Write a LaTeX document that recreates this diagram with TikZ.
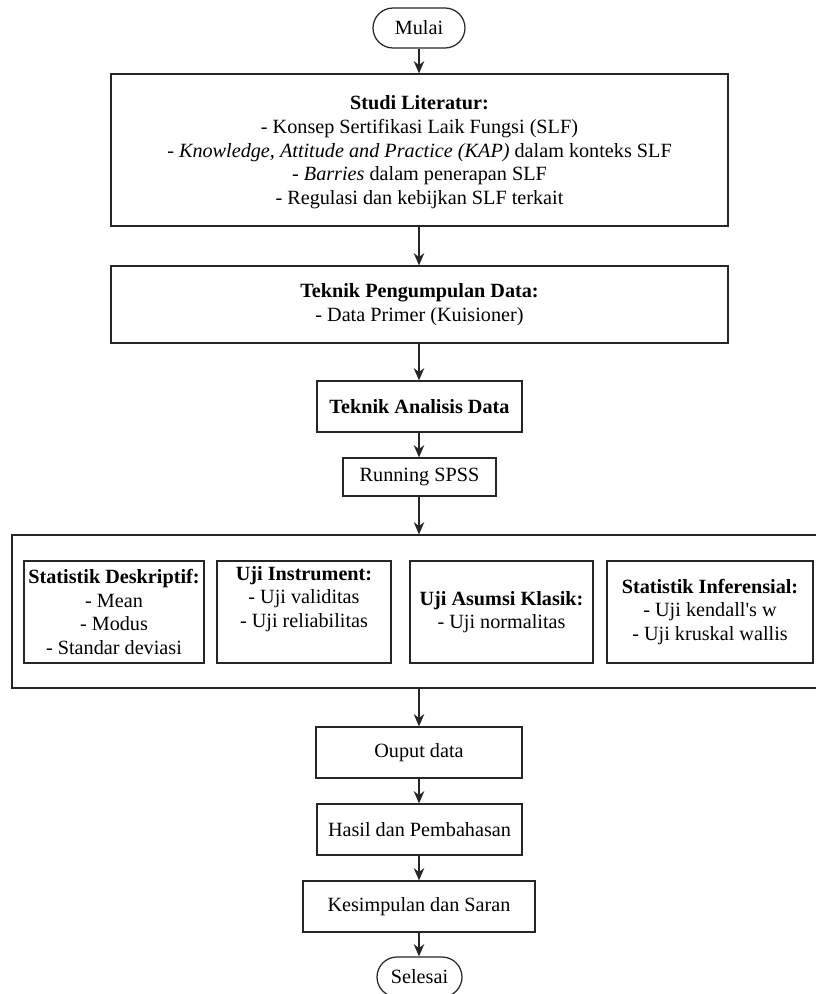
\documentclass[tikz,border=0pt]{standalone}
\usepackage{fontspec}
\setmainfont{Liberation Serif}
\usetikzlibrary{positioning, arrows.meta}

\tikzset{
    kotak/.style={draw=black!85, line width=0.7pt, align=center, inner sep=2pt,
        font=\fontsize{11.5}{13.4}\selectfont},
    ujung/.style={kotak, rounded corners=0.4cm, minimum width=1.8cm, minimum height=0.8cm},
    panah/.style={-{Stealth[length=7pt, width=6pt]}, line width=0.7pt, draw=black!85}
}

\begin{document}
\begin{tikzpicture}[x=0.02cm, y=-0.02cm]
    \useasboundingbox (0,0) rectangle (815,994);

    \node[ujung, minimum width=1.84cm] (mulai) at (419,28) {Mulai};
    \node[kotak, minimum width=12.34cm, minimum height=3.04cm, text depth=-2pt] (studi) at (419.5,150)
        {\textbf{Studi Literatur:}\\
         - Konsep Sertifikasi Laik Fungsi (SLF)\\
         - \textit{Knowledge, Attitude and Practice (KAP)} dalam konteks SLF\\
         - \textit{Barries} dalam penerapan SLF\\
         - Regulasi dan kebijkan SLF terkait};
    \node[kotak, minimum width=12.34cm, minimum height=1.54cm] (kumpul) at (419.5,304.5)
        {\textbf{Teknik Pengumpulan Data:}\\ - Data Primer (Kuisioner)};
    \node[kotak, minimum width=4.1cm, minimum height=1.02cm] (analisis) at (419.5,406.5)
        {\textbf{Teknik Analisis Data}};
    \node[kotak, minimum width=3.06cm, minimum height=0.76cm] (spss) at (419.5,477)
        {Running SPSS};

    % kotak besar berisi empat uji
    \node[kotak, minimum width=16.36cm, minimum height=3.06cm] (grup) at (421,611.5) {};
    \node[kotak, minimum width=3.6cm, minimum height=2.04cm] (deskriptif) at (114,612)
        {\textbf{Statistik Deskriptif:}\\ - Mean\\ - Modus\\ - Standar deviasi};
    \node[kotak, minimum width=3.48cm, minimum height=2.04cm] (instrumen) at (304,612)
        {\textbf{Uji Instrument:}\\ - Uji validitas\\ - Uji reliabilitas\\ \strut};
    \node[kotak, minimum width=3.66cm, minimum height=2.04cm] (asumsi) at (501.5,612)
        {\textbf{Uji Asumsi Klasik:}\\ - Uji normalitas};
    \node[kotak, minimum width=4.12cm, minimum height=2.04cm] (inferensial) at (710,612)
        {\textbf{Statistik Inferensial:}\\ - Uji kendall\textquotesingle s w\\ - Uji kruskal wallis};

    \node[kotak, minimum width=4.12cm, minimum height=1.02cm] (output) at (419,752.5)
        {Ouput data};
    \node[kotak, minimum width=4.1cm, minimum height=1.02cm] (hasil) at (419.5,829.5)
        {Hasil dan Pembahasan};
    \node[kotak, minimum width=4.64cm, minimum height=1.02cm] (simpulan) at (419,906.5)
        {Kesimpulan dan Saran};
    \node[ujung, minimum width=1.7cm] (selesai) at (419.5,977) {Selesai};

    \draw[panah] (mulai) -- (mulai |- studi.north);
    \draw[panah] (studi.south -| mulai) -- (kumpul.north -| mulai);
    \draw[panah] (kumpul.south -| mulai) -- (analisis.north -| mulai);
    \draw[panah] (analisis.south -| mulai) -- (spss.north -| mulai);
    \draw[panah] (spss.south -| mulai) -- (grup.north -| mulai);
    \draw[panah] (grup.south -| mulai) -- (output.north -| mulai);
    \draw[panah] (output.south -| mulai) -- (hasil.north -| mulai);
    \draw[panah] (hasil.south -| mulai) -- (simpulan.north -| mulai);
    \draw[panah] (simpulan.south -| mulai) -- (selesai.north -| mulai);
\end{tikzpicture}
\end{document}
